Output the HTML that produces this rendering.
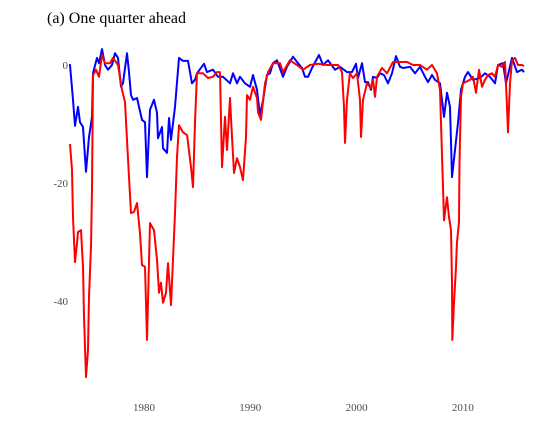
<!DOCTYPE html>
<html><head><meta charset="utf-8"><style>
body{margin:0;background:#fff;}
svg{display:block;font-family:"Liberation Serif",serif;}
</style></head><body>
<svg width="555" height="438">
<text x="47" y="23" font-size="16" fill="#000">(a) One quarter ahead</text>
<g id="axes"></g><g id="lines"></g>
</svg>
<script>
const yTicks=[0,-20,-40];
const xTicks=[1980,1990,2000,2010];
const blueYears=[1972.94,1973.04,1973.32,1973.51,1973.79,1973.98,1974.26,1974.54,1974.83,1975.11,1975.2,1975.58,1975.77,1976.05,1976.33,1976.61,1976.99,1977.27,1977.55,1977.84,1978.02,1978.4,1978.59,1978.78,1978.97,1979.34,1979.81,1980.09,1980.28,1980.56,1980.94,1981.22,1981.32,1981.69,1981.79,1982.16,1982.35,1982.54,1982.92,1983.29,1983.67,1984.14,1984.52,1984.8,1984.99,1985.64,1985.93,1986.49,1986.96,1987.43,1988.09,1988.37,1988.75,1989.03,1989.5,1989.97,1990.25,1990.63,1990.91,1991.2,1991.57,1991.85,1992.14,1992.51,1993.08,1993.45,1994.02,1994.49,1994.86,1995.15,1995.43,1995.8,1996.46,1996.84,1997.31,1997.97,1998.44,1999.1,1999.57,1999.94,2000.13,2000.51,2000.79,2001.07,2001.35,2001.54,2001.92,2002.2,2002.58,2002.95,2003.33,2003.71,2004.08,2004.37,2005.03,2005.49,2005.96,2006.43,2006.72,2007.09,2007.38,2007.85,2008.22,2008.5,2008.79,2008.97,2009.26,2009.54,2009.82,2010.2,2010.48,2010.95,2011.61,2012.08,2012.55,2013.02,2013.3,2013.77,2014.05,2014.62,2015.09,2015.56,2015.75];
const blueValues=[0,0,-5.9,-10.3,-7.1,-9.7,-10.5,-18.1,-12.2,-8.8,-1.4,1.2,0.3,2.7,0,-0.8,0,2,1.2,-3.7,-3.1,2,-1.2,-5.1,-5.9,-5.6,-9.3,-9.7,-19,-7.6,-5.9,-8.1,-12.4,-10.5,-14.1,-14.9,-9,-12.7,-7.1,1.2,0.7,0.7,-3.1,-2.5,-1.4,0.2,-1.2,-0.8,-2,-2,-3.1,-1.4,-3.1,-2,-3.1,-3.7,-1.7,-4.2,-8.5,-5.9,-1.7,-1.4,0.3,0.8,-2,-0.3,1.4,0.3,-0.5,-2,-2,-0.5,1.7,0,0.8,-0.8,-0.3,-1.2,-1.2,0.2,-2.2,0.3,-2.9,-2.9,-4.2,-2,-2.2,-1.4,-1.7,-3.1,-1.4,1.5,-0.3,-0.5,-0.3,-1.4,-0.3,-2,-2.9,-1.7,-2.5,-3.1,-8.8,-4.7,-7.1,-19,-14.4,-9.8,-4.2,-2,-1.2,-2.5,-2.2,-1.4,-2,-3.1,0,0.3,-3.1,1.2,-1.2,-0.8,-1.2];
const redYears=[1973.04,1973.23,1973.32,1973.51,1973.7,1973.79,1974.07,1974.26,1974.36,1974.54,1974.73,1974.83,1975.01,1975.11,1975.2,1975.48,1975.77,1976.05,1976.33,1976.8,1977.08,1977.55,1977.93,1978.21,1978.49,1978.78,1979.06,1979.34,1979.62,1979.81,1980.09,1980.28,1980.56,1980.94,1981.22,1981.41,1981.6,1981.79,1982.07,1982.26,1982.54,1982.73,1982.92,1983.1,1983.29,1983.67,1984.05,1984.42,1984.61,1984.8,1984.99,1985.55,1986.02,1986.49,1986.87,1987.15,1987.34,1987.62,1987.81,1988.09,1988.28,1988.47,1988.75,1989.03,1989.31,1989.6,1989.69,1989.97,1990.25,1990.63,1990.72,1991.01,1991.38,1991.67,1992.14,1992.79,1993.08,1993.73,1994.39,1994.96,1995.62,1996.37,1997.22,1997.78,1998.25,1998.63,1998.81,1998.91,1999.1,1999.37,1999.66,2000.04,2000.32,2000.41,2000.6,2000.98,2001.35,2001.54,2001.73,2001.92,2002.39,2002.86,2003.42,2004.08,2004.74,2005.31,2005.96,2006.62,2007.09,2007.56,2007.85,2007.94,2008.13,2008.22,2008.41,2008.5,2008.69,2008.88,2008.97,2009.0,2009.16,2009.35,2009.44,2009.63,2009.68,2009.82,2010.01,2010.67,2010.95,2011.23,2011.51,2011.8,2012.08,2012.36,2012.74,2013.02,2013.3,2013.68,2013.96,2014.15,2014.24,2014.43,2014.62,2014.9,2015.18,2015.56,2015.75];
const redValues=[-13.4,-17.8,-25.8,-33.4,-30.2,-28.3,-28,-34.2,-42.7,-52.9,-48.3,-39.3,-30.8,-21.2,-1.7,-0.8,-2,1.7,0.3,0.3,1.2,0,-4.2,-6.3,-15.6,-25.1,-24.9,-23.4,-28.5,-33.9,-34.2,-46.6,-26.8,-28,-33,-38.6,-36.9,-40.3,-38.6,-33.6,-40.7,-33,-25.1,-15.6,-10.2,-11.4,-11.9,-17.3,-20.7,-9.8,-1.4,-1.4,-2.2,-2,-1.2,-1.2,-17.3,-8.8,-14.4,-5.6,-12.2,-18.3,-15.8,-17.3,-19.5,-12.2,-5.1,-5.9,-3.7,-5.6,-8,-9.3,-3.1,-1.2,0.3,0.3,-1.2,0.8,0,-0.8,0,0.2,0,0,0,-1.2,-7.1,-13.2,-5.9,-1.4,-2.2,-1.4,-5.9,-12.2,-5.9,-3.1,-3.9,-2.5,-5.4,-2,-0.5,-1.4,0.5,0.5,0.5,0,0,-0.8,0,-1.4,-4.2,-9.8,-20.7,-26.3,-23.7,-22.4,-25.8,-28,-36.9,-46.6,-40.3,-34.2,-30.2,-26.6,-16.6,-5.4,-3.1,-2.5,-2,-4.7,-0.8,-3.7,-2.5,-1.7,-1.4,-2,0,-0.3,0.5,-7.1,-11.4,-3.1,0.8,1.2,0,0,-0.2];

const x=t=>144+(t-1980)*10.63;
const y=v=>65-v*5.9;
const NS='http://www.w3.org/2000/svg';
const axes=document.getElementById('axes'), lines=document.getElementById('lines');
yTicks.forEach(v=>{
  const t=document.createElementNS(NS,'text');
  t.setAttribute('x',68);t.setAttribute('y',y(v)+4);t.setAttribute('text-anchor','end');
  t.setAttribute('font-size','11');t.setAttribute('fill','#4d4d4d');t.textContent=v;
  
  
  axes.appendChild(t);
});
xTicks.forEach(v=>{
  const t=document.createElementNS(NS,'text');
  t.setAttribute('x',x(v));t.setAttribute('y',411);t.setAttribute('text-anchor','middle');
  t.setAttribute('font-size','11');t.setAttribute('fill','#4d4d4d');t.textContent=v;
  
  
  axes.appendChild(t);
});
function draw(ys,vs,color,name){
  const p=document.createElementNS(NS,'path');
  p.setAttribute('d',ys.map((t,i)=>(i?'L':'M')+x(t).toFixed(1)+','+y(vs[i]).toFixed(1)).join(''));
  p.setAttribute('fill','none');p.setAttribute('stroke',color);p.setAttribute('stroke-width','2');
  p.setAttribute('stroke-linejoin','round');
  
  
  lines.appendChild(p);
}
draw(blueYears,blueValues,'#0000ff','blue-series-line');
draw(redYears,redValues,'#ff0000','red-series-line');
</script>
</body></html>
